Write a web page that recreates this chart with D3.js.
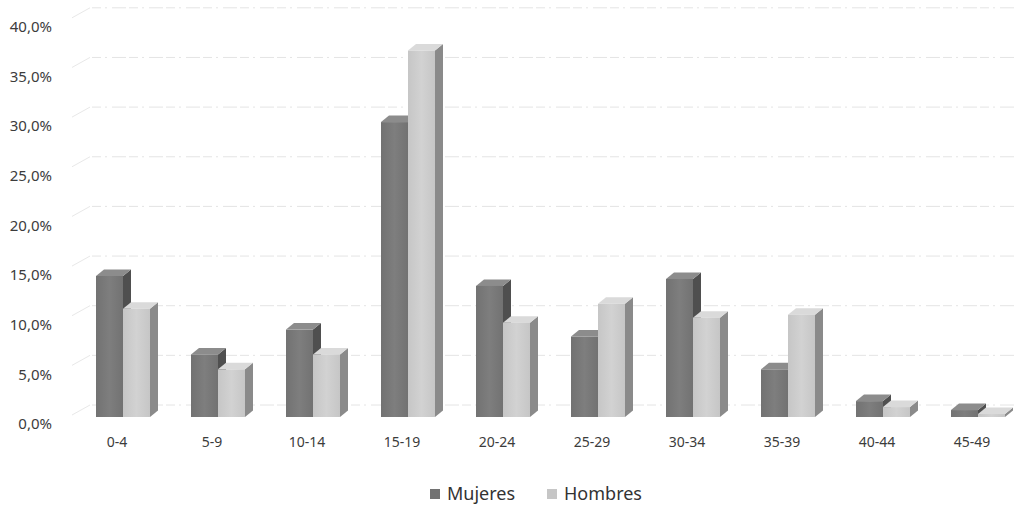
<!DOCTYPE html>
<html>
<head>
<meta charset="utf-8">
<script src="https://cdn.jsdelivr.net/npm/d3@7"></script>
<style>
  html, body { margin: 0; padding: 0; background: #fff; }
  svg { display: block; }
</style>
</head>
<body>
<svg id="chart" width="1025" height="507"></svg>
<script>
// ---- data ----
const categories = ["0-4", "5-9", "10-14", "15-19", "20-24", "25-29", "30-34", "35-39", "40-44", "45-49"];
const seriesNames = ["Mujeres", "Hombres"];
const mujeres = [14.2, 6.3, 8.8, 29.7, 13.2, 8.1, 13.9, 4.8, 1.6, 0.7];
const hombres = [10.9, 4.8, 6.3, 36.9, 9.5, 11.4, 10.0, 10.3, 1.0, 0.3];
const yTicks = [0, 5, 10, 15, 20, 25, 30, 35, 40];
const yTickLabels = ["0,0%", "5,0%", "10,0%", "15,0%", "20,0%", "25,0%", "30,0%", "35,0%", "40,0%"];

const svg = d3.select("#chart");
const font = "'Noto Sans', 'DejaVu Sans', sans-serif";

// ---- scales ----
const x = d3.scaleBand().domain(categories).range([69.5, 1019.5]).paddingInner(0).paddingOuter(0);
const xs = d3.scaleBand().domain(seriesNames).range([-21, 33]);
const yBar = d3.scaleLinear().domain([0, 40]).range([417, 417 - 40 * 9.93]);
const yGrid = d3.scaleLinear().domain([0, 40]).range([405, 405 - 40 * 9.93]);
const yLab = d3.scaleLinear().domain([0, 40]).range([424, 424 - 40 * 9.93]);

const dx = 8, dy = -6.5;

const colors = {
  Mujeres: { front: "#727272", frontL: "#7e7e7e", top: "#8c8c8c", side: "#4f4f4f" },
  Hombres: { front: "#c6c6c6", frontL: "#d2d2d2", top: "#dadada", side: "#8a8a8a" }
};

// gradients
const defs = svg.append("defs");
seriesNames.forEach(s => {
  const g = defs.append("linearGradient").attr("id", "grad-" + s).attr("x1", 0).attr("x2", 1).attr("y1", 0).attr("y2", 0);
  g.append("stop").attr("offset", "0%").attr("stop-color", colors[s].front);
  g.append("stop").attr("offset", "50%").attr("stop-color", colors[s].frontL);
  g.append("stop").attr("offset", "100%").attr("stop-color", colors[s].front);
});

// ---- gridlines (back wall) ----
const grid = svg.append("g");
grid.selectAll("line.g").data(yTicks).join("line")
  .attr("x1", 92).attr("x2", 1015)
  .attr("y1", d => yGrid(d)).attr("y2", d => yGrid(d))
  .attr("stroke", "#e4e4e4").attr("stroke-width", 1)
  .attr("stroke-dasharray", "9,4,2,5,14,3");
// left wall diagonals
grid.selectAll("line.d").data(yTicks).join("line")
  .attr("x1", 72).attr("x2", 90)
  .attr("y1", d => yGrid(d) + 10).attr("y2", d => yGrid(d))
  .attr("stroke", "#e8e8e8").attr("stroke-width", 1);

// ---- y axis labels ----
const yAxis = d3.axisLeft(yLab).tickValues(yTicks).tickSize(0).tickFormat((d, i) => yTickLabels[i]);
const yg = svg.append("g").attr("transform", "translate(55,0)").call(yAxis);
yg.select(".domain").remove();
yg.selectAll("text").attr("font-family", font).attr("font-size", 15).attr("fill", "#3c3c3c");

// ---- x axis labels ----
const xAxis = d3.axisBottom(x).tickSize(0);
const xg = svg.append("g").attr("transform", "translate(0,434)").call(xAxis);
xg.select(".domain").remove();
xg.selectAll("text").attr("font-family", font).attr("font-size", 14).attr("fill", "#3c3c3c");

// ---- bars (pseudo 3D) ----
const rows = categories.map((c, i) => ({ cat: c, vals: [
  { s: "Mujeres", v: mujeres[i] },
  { s: "Hombres", v: hombres[i] }
]}));

const bars = svg.append("g");
rows.forEach(r => {
  const cx = x(r.cat) + x.bandwidth() / 2;
  r.vals.forEach(d => {
    const x0 = cx + xs(d.s), w = xs.bandwidth();
    const yt = yBar(d.v), yb = yBar(0);
    const c = colors[d.s];
    const g = bars.append("g");
    // side face
    g.append("path")
      .attr("d", `M${x0 + w},${yt} L${x0 + w + dx},${yt + dy} L${x0 + w + dx},${yb + dy} L${x0 + w},${yb} Z`)
      .attr("fill", c.side);
    // top face
    g.append("path")
      .attr("d", `M${x0},${yt} L${x0 + dx},${yt + dy} L${x0 + w + dx},${yt + dy} L${x0 + w},${yt} Z`)
      .attr("fill", c.top);
    // front face
    g.append("rect")
      .attr("x", x0).attr("y", yt).attr("width", w).attr("height", Math.max(0, yb - yt))
      .attr("fill", "url(#grad-" + d.s + ")");
  });
});

// ---- legend ----
const legend = svg.append("g");
const legendItems = [
  { s: "Mujeres", x: 430 },
  { s: "Hombres", x: 547 }
];
legendItems.forEach(it => {
  legend.append("rect").attr("x", it.x).attr("y", 489).attr("width", 10).attr("height", 10)
    .attr("fill", colors[it.s].front);
  legend.append("text").attr("x", it.x + 17).attr("y", 500)
    .attr("font-family", font).attr("font-size", 18).attr("fill", "#333")
    .text(it.s);
});
</script>
</body>
</html>
